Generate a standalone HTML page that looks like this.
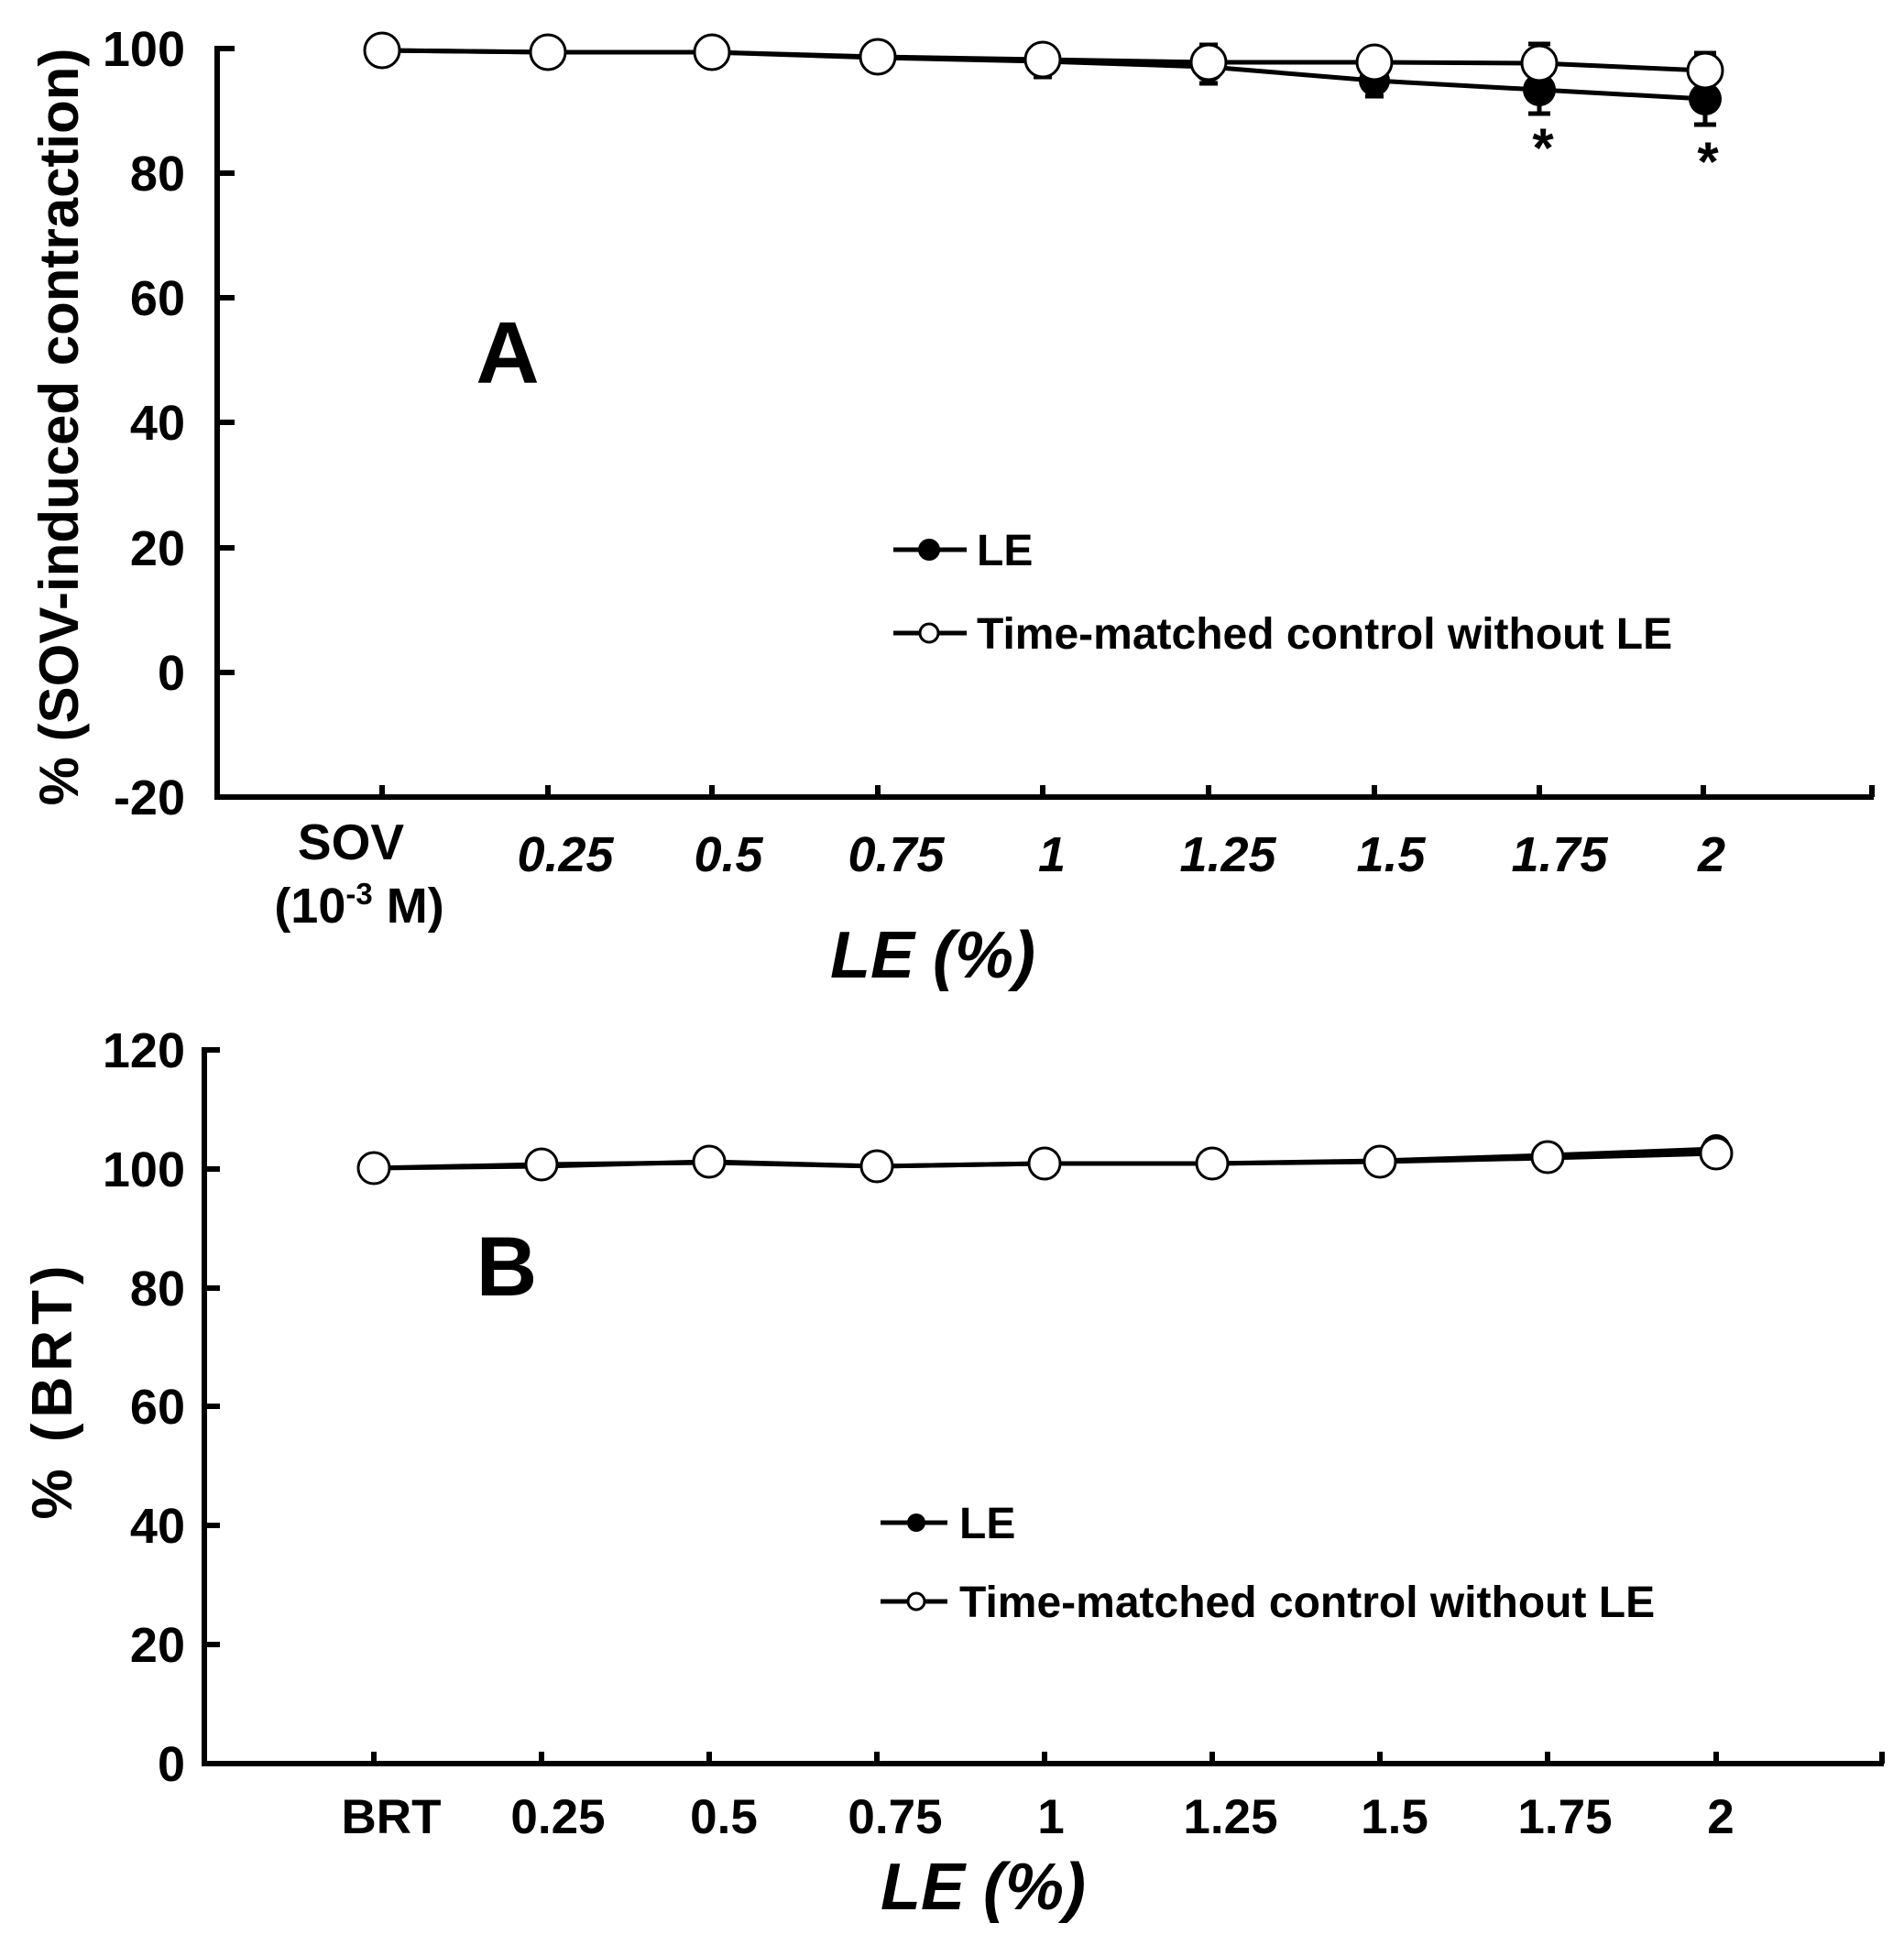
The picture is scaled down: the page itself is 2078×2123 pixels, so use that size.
<!DOCTYPE html>
<html><head><meta charset="utf-8"><style>html,body{margin:0;padding:0;background:#fff}svg{display:block}</style></head>
<body>
<svg width="2078" height="2123" viewBox="0 0 2078 2123" xmlns="http://www.w3.org/2000/svg" font-family="Liberation Sans, Arial, sans-serif" font-weight="bold">
<!-- Panel A -->
<g stroke="#000" stroke-width="6" fill="none">
<line x1="237" y1="50" x2="237" y2="873"/>
<line x1="234" y1="870" x2="2045" y2="870"/>
<line x1="237" y1="53" x2="256" y2="53"/><line x1="237" y1="189" x2="256" y2="189"/><line x1="237" y1="325" x2="256" y2="325"/><line x1="237" y1="461" x2="256" y2="461"/><line x1="237" y1="598" x2="256" y2="598"/><line x1="237" y1="734" x2="256" y2="734"/>
<line x1="417" y1="870" x2="417" y2="857"/><line x1="598" y1="870" x2="598" y2="857"/><line x1="777" y1="870" x2="777" y2="857"/><line x1="958" y1="870" x2="958" y2="857"/><line x1="1138" y1="870" x2="1138" y2="857"/><line x1="1319" y1="870" x2="1319" y2="857"/><line x1="1500" y1="870" x2="1500" y2="857"/><line x1="1680" y1="870" x2="1680" y2="857"/><line x1="1859" y1="870" x2="1859" y2="857"/><line x1="2043" y1="870" x2="2043" y2="857"/>
</g>
<g font-size="54" text-anchor="end">
<text x="202" y="72">100</text><text x="202" y="208">80</text><text x="202" y="344">60</text><text x="202" y="480">40</text><text x="202" y="617">20</text><text x="202" y="753">0</text><text x="202" y="889">-20</text>
</g>
<text transform="translate(85,466) rotate(-90)" font-size="60" text-anchor="middle">% (SOV-induced contraction)</text>
<text x="554" y="418" font-size="96" text-anchor="middle">A</text>
<g font-size="54" font-style="italic" text-anchor="middle">
<text x="617" y="951">0.25</text><text x="795" y="951">0.5</text><text x="978" y="951">0.75</text><text x="1148" y="951">1</text><text x="1340" y="951">1.25</text><text x="1518" y="951">1.5</text><text x="1702" y="951">1.75</text><text x="1868" y="951">2</text>
</g>
<text x="383" y="938" font-size="55" text-anchor="middle">SOV</text>
<text x="392" y="1007" font-size="54" text-anchor="middle">(10<tspan font-size="33" dy="-20">-3</tspan><tspan dy="20"> M)</tspan></text>
<text x="1018" y="1067" font-size="72" font-style="italic" text-anchor="middle">LE (%)</text>
<!-- error bars A -->
<g stroke="#000" stroke-width="5">
<line x1="1138" y1="65" x2="1138" y2="84"/><line x1="1128" y1="84" x2="1148" y2="84"/>
<line x1="1319" y1="68" x2="1319" y2="91"/><line x1="1309" y1="91" x2="1329" y2="91"/><line x1="1309" y1="49" x2="1329" y2="49"/>
<line x1="1500" y1="88" x2="1500" y2="105"/><line x1="1490" y1="105" x2="1510" y2="105"/>
<line x1="1680" y1="48" x2="1680" y2="124"/><line x1="1668" y1="124" x2="1692" y2="124"/><line x1="1668" y1="48" x2="1692" y2="48"/>
<line x1="1861" y1="58" x2="1861" y2="136"/><line x1="1849" y1="136" x2="1873" y2="136"/><line x1="1849" y1="58" x2="1873" y2="58"/>
</g>
<g stroke="#000" stroke-width="5" fill="none">
<polyline points="417,55 598,57 777,57 958,63 1138,67 1319,73 1500,88 1680,98 1861,108"/>
<polyline points="417,55 598,57 777,57 958,62 1138,65 1319,68 1500,68 1680,69 1861,77"/>
</g>
<g fill="#000"><circle cx="1138" cy="67" r="17"/><circle cx="1319" cy="73" r="17"/><circle cx="1500" cy="88" r="17"/><circle cx="1680" cy="98" r="18"/><circle cx="1861" cy="108" r="18"/></g>
<g fill="#fff" stroke="#000" stroke-width="3">
<circle cx="417" cy="55" r="19"/><circle cx="598" cy="57" r="19"/><circle cx="777" cy="57" r="19"/><circle cx="958" cy="62" r="19"/><circle cx="1138" cy="65" r="19"/><circle cx="1319" cy="68" r="19"/><circle cx="1500" cy="68" r="19"/><circle cx="1680" cy="69" r="19"/><circle cx="1861" cy="77" r="19"/>
</g>
<g font-size="60" text-anchor="middle"><text x="1684" y="182">*</text><text x="1864" y="197">*</text></g>
<!-- legend A -->
<g stroke="#000" stroke-width="5"><line x1="975" y1="600" x2="1055" y2="600"/><line x1="975" y1="691" x2="1055" y2="691"/></g>
<circle cx="1014" cy="600" r="12" fill="#000"/>
<circle cx="1014" cy="691" r="10" fill="#fff" stroke="#000" stroke-width="3"/>
<g font-size="48"><text x="1066" y="617">LE</text><text x="1066" y="708">Time-matched control without LE</text></g>

<!-- Panel B -->
<g stroke="#000" stroke-width="6" fill="none">
<line x1="223" y1="1143" x2="223" y2="1928"/>
<line x1="220" y1="1925" x2="2056" y2="1925"/>
<line x1="223" y1="1146" x2="240" y2="1146"/><line x1="223" y1="1276" x2="240" y2="1276"/><line x1="223" y1="1406" x2="240" y2="1406"/><line x1="223" y1="1535" x2="240" y2="1535"/><line x1="223" y1="1665" x2="240" y2="1665"/><line x1="223" y1="1795" x2="240" y2="1795"/>
<line x1="408" y1="1925" x2="408" y2="1912"/><line x1="591" y1="1925" x2="591" y2="1912"/><line x1="774" y1="1925" x2="774" y2="1912"/><line x1="957" y1="1925" x2="957" y2="1912"/><line x1="1140" y1="1925" x2="1140" y2="1912"/><line x1="1323" y1="1925" x2="1323" y2="1912"/><line x1="1506" y1="1925" x2="1506" y2="1912"/><line x1="1689" y1="1925" x2="1689" y2="1912"/><line x1="1873" y1="1925" x2="1873" y2="1912"/><line x1="2054" y1="1925" x2="2054" y2="1912"/>
</g>
<g font-size="54" text-anchor="end">
<text x="202" y="1165">120</text><text x="202" y="1295">100</text><text x="202" y="1425">80</text><text x="202" y="1554">60</text><text x="202" y="1684">40</text><text x="202" y="1814">20</text><text x="202" y="1944">0</text>
</g>
<text transform="translate(78,1517) rotate(-90)" font-size="62" letter-spacing="6" text-anchor="middle">% (BRT)</text>
<text x="553" y="1414" font-size="92" text-anchor="middle">B</text>
<g font-size="53" text-anchor="middle">
<text x="427" y="2001">BRT</text><text x="609" y="2001">0.25</text><text x="790" y="2001">0.5</text><text x="977" y="2001">0.75</text><text x="1147" y="2001">1</text><text x="1343" y="2001">1.25</text><text x="1522" y="2001">1.5</text><text x="1708" y="2001">1.75</text><text x="1878" y="2001">2</text>
</g>
<text x="1073" y="2084" font-size="72" font-style="italic" text-anchor="middle">LE (%)</text>
<g stroke="#000" stroke-width="5" fill="none">
<polyline points="408,1275 591,1271 774,1269 957,1273 1140,1270 1323,1270 1506,1267 1689,1261 1873,1254"/>
<polyline points="408,1275 591,1273 774,1268 957,1273 1140,1270 1323,1270 1506,1268 1689,1264 1873,1259"/>
</g>
<circle cx="1873" cy="1254" r="16" fill="#000"/>
<g fill="#fff" stroke="#000" stroke-width="3">
<circle cx="408" cy="1275" r="17"/><circle cx="591" cy="1271" r="17"/><circle cx="774" cy="1268" r="17"/><circle cx="957" cy="1273" r="17"/><circle cx="1140" cy="1270" r="17"/><circle cx="1323" cy="1270" r="17"/><circle cx="1506" cy="1268" r="17"/><circle cx="1689" cy="1263" r="17"/><circle cx="1873" cy="1259" r="17"/>
</g>
<g stroke="#000" stroke-width="5"><line x1="961" y1="1662" x2="1034" y2="1662"/><line x1="961" y1="1748" x2="1034" y2="1748"/></g>
<circle cx="1000" cy="1662" r="10" fill="#000"/>
<circle cx="1000" cy="1748" r="9" fill="#fff" stroke="#000" stroke-width="3"/>
<g font-size="48"><text x="1047" y="1679">LE</text><text x="1047" y="1765">Time-matched control without LE</text></g>
</svg>
</body></html>
